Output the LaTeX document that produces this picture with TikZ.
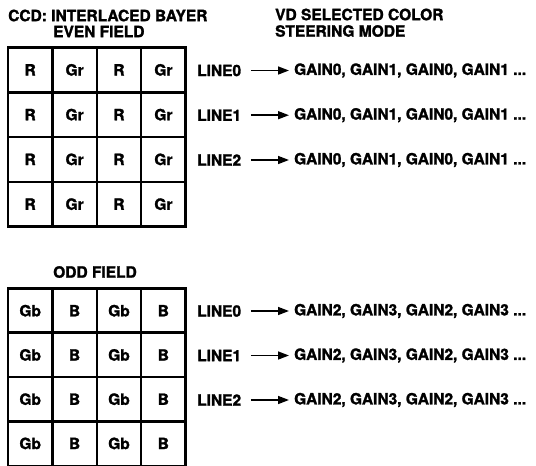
\documentclass[tikz,border=0pt]{standalone}
\usepackage{fontspec}
\setmainfont{TeX Gyre Heros}[BoldFeatures={FakeBold=1.6}]
\usetikzlibrary{arrows.meta}
\begin{document}
\begin{tikzpicture}[x=1pt,y=-1pt,
  txt/.style={font=\fontsize{15.5}{16}\selectfont\bfseries, inner sep=0pt},
  cellbox/.style={draw, line width=2.4pt, minimum width=44.4pt, minimum height=44.6pt, inner sep=0pt,
    font=\fontsize{15.5}{16}\selectfont\bfseries},
  linelbl/.style={txt, anchor=west},
  gainlbl/.style={txt, anchor=west},
  steer/.style={line width=1.5pt, -{Triangle[length=11pt,width=8pt]}, shorten <=9.5pt, shorten >=5pt}]
\useasboundingbox (0,0) rectangle (536,466);
% headings
\node[txt, anchor=west] (h1) at (8,15.5) {CCD: INTERLACED BAYER};
\node[txt, anchor=west] (h2) at (53,31.5) {EVEN FIELD};
\node[txt, anchor=west] (h3) at (275,14.5) {VD SELECTED COLOR};
\node[txt, anchor=west] (h4) at (275,31) {STEERING MODE};
\node[txt] (h5) at (95,272) {ODD FIELD};
% even field grid
\foreach \r in {0,1,2,3}{
  \foreach \c/\t in {0/R,1/Gr,2/R,3/Gr}{
    \node[cellbox] (e\r\c) at ({30.2+44.4*\c},{69.9+44.75*\r}) {\raisebox{-1pt}{\t}};
  }
}
% odd field grid
\foreach \r in {0,1,2,3}{
  \foreach \c/\t in {0/Gb,1/B,2/Gb,3/B}{
    \node[cellbox] (o\r\c) at ({30.2+44.4*\c},{310.7+44.25*\r}) {\raisebox{-1pt}{\t}};
  }
}
% even field lines
\foreach \r/\y in {0/70.5,1/115.2,2/160}{
  \node[linelbl] (el\r) at (197,\y) {LINE\r};
  \node[gainlbl] (eg\r) at (294,\y) {GAIN0, GAIN1, GAIN0, GAIN1 ...};
  \draw[steer] (el\r.east) -- (eg\r.west);
}
% odd field lines
\foreach \r/\y in {0/311,1/355.5,2/400}{
  \node[linelbl] (ol\r) at (197,\y) {LINE\r};
  \node[gainlbl] (og\r) at (294,\y) {GAIN2, GAIN3, GAIN2, GAIN3 ...};
  \draw[steer] (ol\r.east) -- (og\r.west);
}
\end{tikzpicture}
\end{document}
